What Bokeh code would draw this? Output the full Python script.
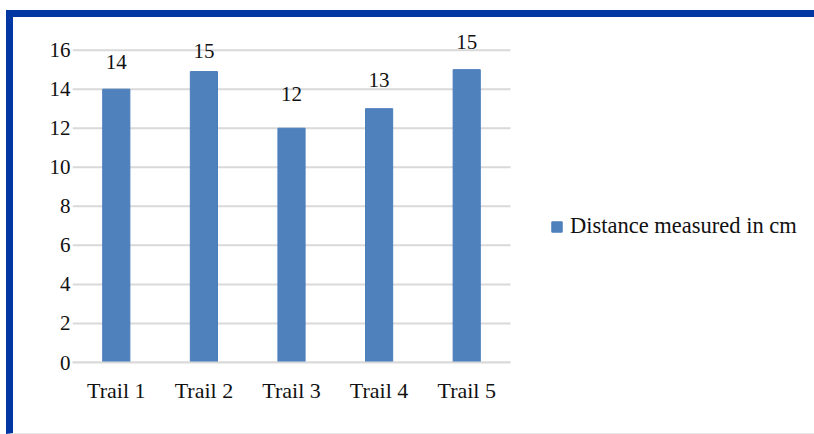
from bokeh.plotting import figure
from bokeh.models import (ColumnDataSource, Range1d, FixedTicker,
                          LabelSet, Legend, LegendItem)
from bokeh.embed import file_html
from bokeh.resources import INLINE

# ---- data ----
trails = ["Trail 1", "Trail 2", "Trail 3", "Trail 4", "Trail 5"]
distance = [14, 14.9, 12, 13, 15]
value_labels = ["14", "15", "12", "13", "15"]
y_ticks = [0, 2, 4, 6, 8, 10, 12, 14, 16]
series_name = "Distance measured in cm"

# ---- styling ----
BAR = "#4F81BD"
FRAME_BLUE = "#0037a3"
GRID = "#d9d9d9"
FONT = "Liberation Serif"
LABEL_NUDGE_PX = [20, 14, 27, 22, 21]   # screen offset of each data label above its bar

n = len(trails)
xpos = [i + 0.5 for i in range(n)]          # category centres
src = ColumnDataSource(dict(x=xpos, distance=distance, lbl=value_labels,
                            nudge=LABEL_NUDGE_PX))
grid_src = ColumnDataSource(dict(y=y_ticks, x0=[0] * len(y_ticks), x1=[n] * len(y_ticks)))

p = figure(x_range=Range1d(0, 8.55), y_range=Range1d(0, 17.62),
           width=808, height=424,
           min_border_left=59, min_border_right=0,
           min_border_top=1, min_border_bottom=79,
           output_backend="svg", toolbar_location=None)
p.outline_line_color = None
p.background_fill_color = "white"
p.border_fill_color = "white"
p.styles = {"margin-top": "10px", "margin-left": "6px",
            "border-top": f"7px solid {FRAME_BLUE}",
            "border-left": f"7px solid {FRAME_BLUE}",
            "border-bottom": "1px solid #e6e6e6"}

# horizontal gridlines spanning only the category area
p.xgrid.grid_line_color = None
p.ygrid.grid_line_color = None
p.segment(x0="x0", x1="x1", y0="y", y1="y", source=grid_src,
          line_color=GRID, line_width=2)

r = p.vbar(x="x", top="distance", width=0.31, source=src,
           fill_color=BAR, line_color="#4A7DBA", line_width=1)

# axes
p.yaxis.ticker = FixedTicker(ticks=y_ticks)
p.yaxis.axis_line_color = None
p.yaxis.major_tick_line_color = None
p.yaxis.major_tick_out = 0
p.yaxis.major_tick_in = 0
p.yaxis.minor_tick_line_color = None
p.yaxis.major_label_standoff = 2
p.yaxis.major_label_text_font = FONT
p.yaxis.major_label_text_font_size = "21px"
p.yaxis.major_label_text_color = "#111111"

p.xaxis.ticker = FixedTicker(ticks=xpos)
p.xaxis.major_label_overrides = {x: t for x, t in zip(xpos, trails)}
p.xaxis.bounds = (0, n)
p.xaxis.axis_line_color = GRID
p.xaxis.axis_line_width = 2
p.xaxis.major_tick_line_color = None
p.xaxis.major_tick_out = 0
p.xaxis.major_tick_in = 0
p.xaxis.minor_tick_line_color = None
p.xaxis.major_label_standoff = 15
p.xaxis.major_label_text_font = FONT
p.xaxis.major_label_text_font_size = "22px"
p.xaxis.major_label_text_color = "#111111"

labels = LabelSet(x="x", y="distance", text="lbl", source=src,
                  y_offset="nudge", text_align="center", text_baseline="alphabetic",
                  text_font=FONT, text_font_size="21px", text_color="#111111")
p.add_layout(labels)

legend = Legend(items=[LegendItem(label=series_name, renderers=[r])],
                location=(478, 123), padding=0, margin=0,
                border_line_color=None, background_fill_alpha=0,
                glyph_width=13, glyph_height=13, label_standoff=7,
                label_text_font=FONT, label_text_font_size="22.5px",
                label_text_color="#111111")
p.add_layout(legend)

open("out.html", "w").write(file_html(p, INLINE))
